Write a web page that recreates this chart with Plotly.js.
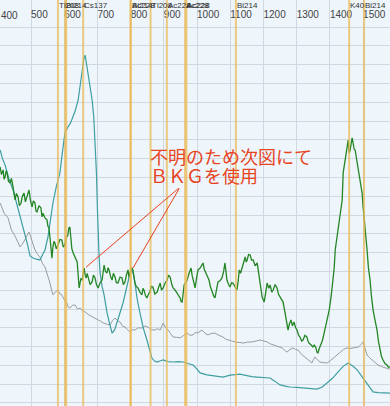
<!DOCTYPE html>
<html><head><meta charset="utf-8">
<script src="https://cdn.plot.ly/plotly-3.0.1.min.js"></script>
<style>html,body{margin:0;padding:0;background:#eef6fc;}</style>
</head><body><div id="chart" style="width:390px;height:406px;"></div>
<script>
// Energy axis (keV) ticks
const tickEnergies = [500,600,700,800,900,1000,1100,1200,1300,1400,1500];
const tickLabels = ['500','600','700','800','900','1000','1100','1200','1300','1400','1500'];

// Teal spectrum (Cs-137 dominated)
const tealE = [407,414,422,434,446,457,467,475,482,490,497,506,516,527,535,542,551,558,566,576,587,595,602,611,619,626,634,642,648,654,659,663,667,672,678,684,689,693,697,700,702,705,708,714,720,729,737,744,752,759,768,777,785,792,798,804,809,813,820,828,838,849,857,864,872,880,890,898,912,928,944,958,973,988,1000,1009,1030,1050,1078,1100,1129,1150,1165,1181,1200,1220,1235,1250,1265,1280,1300,1331,1345,1361,1377,1392,1407,1422,1440,1455,1462,1470,1482,1495,1506,1518,1530,1545,1560,1581];
const tealV = [134.6,130,126.6,119,113.3,106,99,94,90.4,84,78.2,77.1,76.5,76.1,79,81.4,88.3,97,106.4,115,122.4,134,143.6,146.8,149,152.2,156,161.2,170,177.2,183,185.1,181,175.6,168,161.2,152,139.9,122.4,103,90.4,78,69.2,62,57.5,47.9,42,37.2,39,42.6,48,53.2,59,65.4,69,70.8,68,63.8,55,47.9,40,33.5,28,23.9,22.3,21.8,22.5,22.9,22,21.8,22,21.8,21,20.2,18,16,15,14.5,13.8,14.8,15.4,14.6,14,13.8,13.5,13.3,11.5,9.6,9,8.5,8.3,8,7.8,7.4,8.5,10.6,13,16,19.5,21.3,20.5,19.5,17.6,14.5,12.2,9,5.9,5.5,5.3,5.3];

// Gray spectrum
const grayE = [407,419,431,441,452,460,467,476,482,488,494,498,503,507,512,520,527,535,542,550,557,562,566,573,581,587,593,600,608,612,617,625,633,640,648,655,663,673,684,693,702,710,717,727,738,746,753,760,768,775,783,790,798,806,813,823,834,843,852,862,873,881,889,894,898,905,913,920,928,938,949,960,970,979,988,994,1000,1008,1015,1024,1033,1043,1054,1066,1078,1086,1093,1104,1114,1126,1139,1152,1166,1178,1190,1200,1211,1220,1229,1242,1256,1264,1271,1280,1289,1296,1304,1314,1325,1335,1346,1350,1355,1362,1370,1381,1392,1401,1410,1420,1431,1441,1452,1461,1470,1478,1486,1493,1500,1506,1512,1520,1527,1536,1545,1556,1566,1574,1581];
const grayV = [106.4,101,98.4,92,88.8,86,83,85.1,87,88.3,91,89,86.7,84,81.4,79,77.7,74,72.4,68,63.8,60,57.5,59,60.1,58,57.5,55,53.2,51,50.5,52,52.1,50,50.5,49,48.4,47,45.8,45,44.2,43.5,42.6,42,41.5,44,45.2,44,43.1,41,40.4,39,37.8,39,38.8,40,39.9,41,40.4,39,38.8,39.5,38.8,41,42.6,40,38.8,37,35.1,35,34.6,36,37.2,36,36.2,37.5,37.2,38,38.8,37,36.2,37,37.2,36,35.1,34,33.5,33,32.5,32.2,31.9,32.4,32.5,33,33.5,33,32.5,31.5,30.9,30,29.3,28,27.1,28.5,29.3,28.5,28.2,26,24.5,23,21.3,23,24.5,23,21.8,21.5,21.3,22.5,23.9,25.5,27.1,28.5,29.3,29,29.3,29.5,29.8,31,32.5,29,25.5,24,22.9,21.5,20.2,19.3,18.6,18.3,18.1];

// Green spectrum (noisy)
const greenE = [407,411,416,419,422,425,428,432,437,441,446,449,452,456,461,465,470,474,479,483,488,491,494,498,503,507,512,515,518,524,530,533,536,542,548,551,554,557,560,563,566,569,572,576,581,587,593,597,602,606,611,614,617,620,623,627,633,639,642,645,650,654,657,660,663,666,669,672,678,684,688,693,697,702,708,714,717,720,724,729,732,735,740,744,748,753,757,762,768,774,778,783,787,792,795,798,803,807,810,813,817,822,828,834,837,840,845,849,854,858,862,867,873,880,885,889,893,898,904,910,914,919,924,928,934,940,945,949,952,955,958,961,966,970,976,982,985,988,991,994,998,1003,1010,1018,1022,1027,1031,1036,1040,1045,1050,1054,1058,1063,1069,1075,1080,1084,1087,1090,1095,1099,1104,1108,1114,1120,1124,1127,1131,1136,1140,1145,1148,1151,1155,1160,1164,1169,1175,1181,1184,1187,1191,1196,1199,1202,1207,1211,1216,1220,1225,1229,1235,1241,1245,1250,1255,1259,1265,1271,1274,1278,1283,1287,1292,1297,1301,1306,1310,1315,1319,1325,1331,1334,1337,1343,1349,1353,1358,1361,1364,1368,1373,1377,1380,1386,1392,1395,1398,1404,1410,1413,1416,1419,1422,1425,1428,1432,1437,1440,1443,1446,1449,1452,1455,1458,1461,1464,1467,1470,1473,1476,1479,1482,1485,1488,1491,1494,1497,1500,1503,1506,1509,1512,1516,1521,1525,1530,1536,1542,1546,1551,1555,1560,1566,1572,1576,1581];
const greenV = [125.6,121.5,124,119,120.2,123.5,122.4,118,117,119.5,114.9,110.5,108,111.5,109.6,105,106.4,110,111.7,107,109.6,112,113.3,108,104.3,107.5,106.4,102,101.6,105,103.7,99,100.9,98.5,97.4,94,93.1,88.3,80,77.1,83,86,85.1,82,84.1,87,86.7,83,84.1,88,89.4,93.1,93.6,85.1,82,79.8,77,75,68,61.2,66,65.4,69,71.8,68,66.5,69,67,63,64.4,68,66.5,63,61.2,64,65.4,70,73.4,70,69.2,72,70.8,67,65.4,69,67,64,63.8,67,66.5,63,64.4,68,70.8,67,69.2,72,70.8,67,63.8,62,61.2,59,57.5,61,60.1,57,55.9,58,59.1,62,61.7,58,59.1,62,63.8,60,61.2,64,65.4,68,67,63,61.2,60,58.5,57,55.9,54,53.7,58,62.8,64,65.4,69,71.8,68,66,63,61.2,66,70.8,72,74.5,71,69.2,67,65.4,62,59.1,57,55.9,60,64.4,65,66.5,70,74.5,70,65.4,63,61.7,64,63.8,62,60.1,65,70.8,69,72.4,75,77.7,75,76.1,79,78.7,76,76.1,73,74.5,71,67,61,56.4,55,53.7,59,63.8,61,62.8,59,60.1,63,61.2,58,56.4,55,53.7,48,42.6,38.8,42,44.2,41,43.1,40,38.8,36,35.1,33,33.5,36,35.1,33,31.9,31,29.8,31,29.3,27,26.6,29,30.9,33,35.1,40,44.2,47,49.5,57,65.4,72,81.4,85,89.4,93,97.4,103,108,122.4,126,130.9,133,136.2,139.9,133,134.6,138,141,138.3,135,134.6,131,129.3,123.9,121,118.6,114,111.7,104.3,99,93.6,87,81.4,72,65.4,57,49.5,44,38.8,33,28.2,25,22.9,21,20.2,19,19.2];

// Isotope marker lines (keV) and their labels
const isoE = [581,603,606,657,800,800,860,909,964,968,1117,1458,1503];
const isoLabel = ['Tl208','Bi214','','Cs137','Ac228','Bi214','Tl208','Ac228','Ac228','Ac228','Bi214','K40','Bi214'];

// Callout: tail point and the two green points it points at
const calloutTail = {e:949, v:114.9};
const calloutTipE = [666, 807];
const calloutTipV = [72.3, 71.8];
const noteLines = ['不明のため次図にて','ＢＫＧを使用'];
const noteE = 858;
const noteV = [131.3, 121.2];

const gridVals = [];
for (let v = 0; v <= 200; v += 10) gridVals.push(v);

const traces = [
  {x: grayE, y: grayV, mode:'lines', line:{color:'#9b9b9b', width:1}, hoverinfo:'skip'},
  {x: tealE, y: tealV, mode:'lines', line:{color:'#3f9ea0', width:1.2}, hoverinfo:'skip'},
  {x: greenE, y: greenV, mode:'lines', line:{color:'#238523', width:1.3}, hoverinfo:'skip'}
];

const shapes = isoE.map(e => ({type:'line', xref:'x', yref:'paper', x0:e, x1:e, y0:0, y1:1,
  line:{color:'rgba(236,183,82,0.72)', width:2}, layer:'above'}));

const labelFont = {family:'Liberation Sans Narrow, Liberation Sans, sans-serif', size:8, color:'#333'};
const annotations = [];
isoE.forEach((e,i) => {
  if (!isoLabel[i]) return;
  annotations.push({xref:'x', yref:'paper', x:e, y:1.0, yshift:1, xanchor:'left', yanchor:'top',
    text: isoLabel[i], showarrow:false, xshift:-1, font:labelFont});
});
annotations.push({xref:'paper', yref:'paper', x:0, y:1, yshift:-15, xanchor:'left', yanchor:'middle',
  text:'400', showarrow:false, xshift:-1,
  font:{family:'Liberation Sans Narrow, Liberation Sans, sans-serif', size:10, color:'#444'}});
calloutTipE.forEach((e,i) => {
  annotations.push({xref:'x', yref:'y', x:e, y:calloutTipV[i], axref:'x', ayref:'y',
    ax:calloutTail.e, ay:calloutTail.v, text:'', showarrow:true, arrowhead:0, arrowwidth:1,
    arrowcolor:'#e8401c', standoff:0, startstandoff:0});
});
noteLines.forEach((t,i) => {
  annotations.push({xref:'x', yref:'y', x:noteE, y:noteV[i], xanchor:'left', yanchor:'middle',
    text:t, showarrow:false, xshift:-2,
    font:{family:'Noto Sans CJK JP, sans-serif', size:18, color:'#e8441e'}});
});

const layout = {
  width:390, height:406,
  margin:{l:0,r:0,t:0,b:0},
  paper_bgcolor:'#eef6fc', plot_bgcolor:'#eef6fc',
  showlegend:false,
  xaxis:{range:[406.6,1581], side:'top', tickvals:tickEnergies, ticktext:tickLabels,
    ticklabelposition:'inside right', ticks:'', showgrid:true, gridcolor:'#d0d9e2', gridwidth:1,
    zeroline:false, showline:false, ticklabelstandoff:5,
    tickfont:{family:'Liberation Sans Narrow, Liberation Sans, sans-serif', size:10, color:'#444'}},
  yaxis:{range:[-1.6,214.4], tickvals:gridVals, showticklabels:false, ticks:'', showgrid:true,
    gridcolor:'#d0d9e2', gridwidth:1, zeroline:false, showline:false},
  shapes: shapes,
  annotations: annotations
};

Plotly.newPlot('chart', traces, layout, {staticPlot:true, displayModeBar:false});
</script></body></html>
